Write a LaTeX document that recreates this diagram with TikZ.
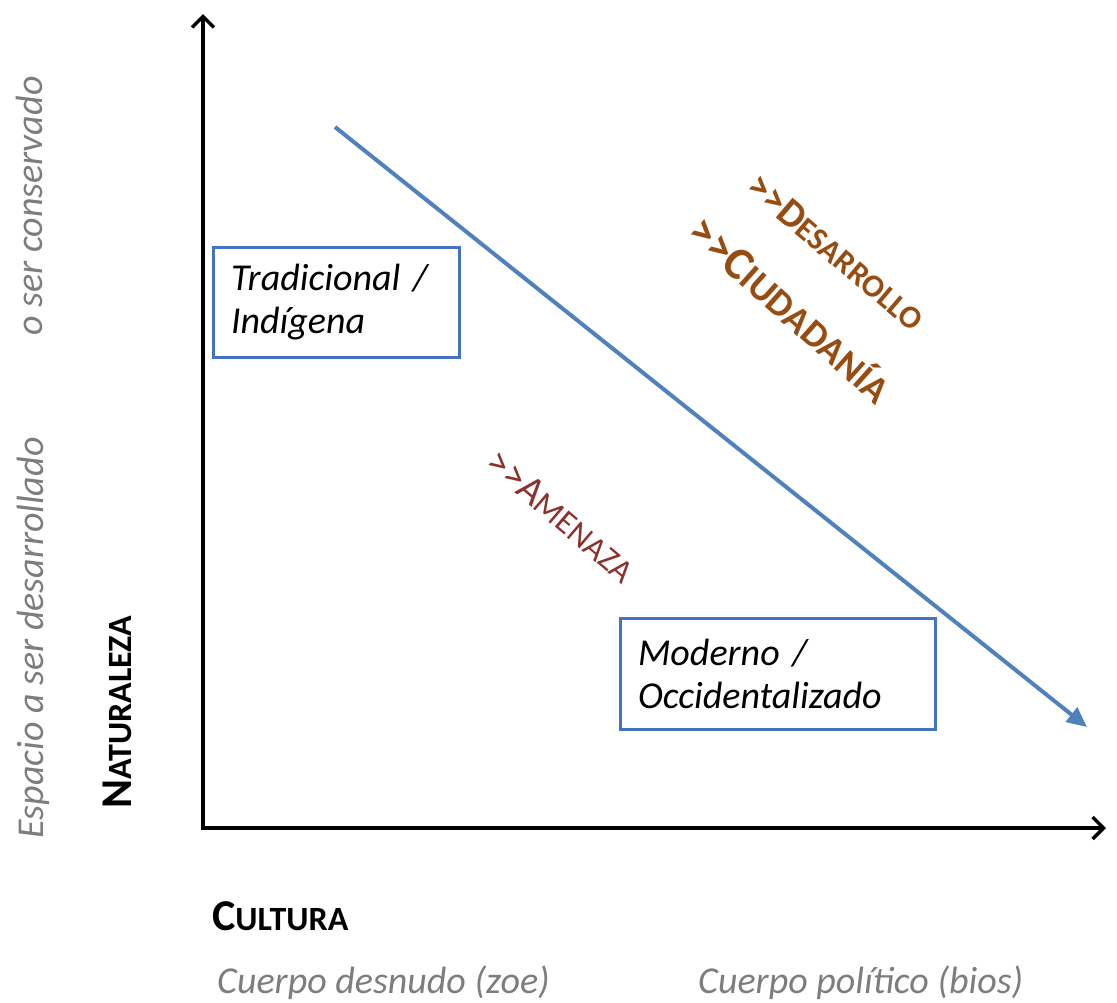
\documentclass[tikz,border=0pt]{standalone}
\usepackage{fontspec}
\setmainfont{Carlito}
\usetikzlibrary{arrows.meta}
\definecolor{axisblue}{RGB}{79,129,189}
\definecolor{boxblue}{RGB}{68,114,196}
\definecolor{brownorange}{RGB}{151,77,18}
\definecolor{darkred}{RGB}{140,50,45}
\definecolor{softgray}{RGB}{125,125,125}
\newcommand{\fs}[1]{\fontsize{#1}{#1}\selectfont}
\newcommand{\dblgt}{>\kern0pt>}
\tikzset{
  axisline/.style={line width=3.5pt, black, -{Straight Barb[length=11pt,width=22pt,line width=3.5pt]}},
  trendline/.style={line width=4pt, axisblue, -{Triangle[length=20pt,width=18pt]}},
  catbox/.style={draw=boxblue, line width=3pt, fill=white, align=left, inner xsep=18pt, font=\itshape\fontsize{38}{43}\selectfont},
  graytext/.style={softgray, font=\itshape\fontsize{38}{38}\selectfont, inner sep=0pt},
}
\begin{document}
\begin{tikzpicture}[x=1pt,y=-1pt]
\useasboundingbox (0,0) rectangle (1117,1002);
% axes
\coordinate (origin) at (203,828);
\coordinate (ytop) at (203,14);
\coordinate (xend) at (1106,828);
\draw[axisline] (origin) -- (ytop);
\draw[axisline] ([xshift=-1.75pt]origin) -- (xend);
% trend arrow
\coordinate (tstart) at (335,127);
\coordinate (tend) at (1087,727);
\draw[trendline] (tstart) -- (tend);
% boxes
\node[catbox, minimum width=246pt, minimum height=110pt, text width=210pt] (trad) at (336,302) {Tradicional /\\Indígena};
\node[catbox, minimum width=315pt, minimum height=111pt, text width=279pt] (mod) at (777.5,674) {Moderno /\\Occidentalizado};
% rotated labels
\node[brownorange, rotate=-40.3, font=\bfseries] (des) at (836.5,252) {\fs{40}\dblgt D\fs{32}ESARROLLO};
\node[brownorange, rotate=-41.7, font=\bfseries] (ciu) at (791,309) {\fs{46}\dblgt C\fs{38}IUDADANÍA};
\node[darkred, rotate=-40.4] (ame) at (561.5,516) {\fs{40}\dblgt A\fs{33}MENAZA};
% axis labels
\node[rotate=90, font=\bfseries] (nat) at (117,712) {\fs{44}N\fs{34}ATURALEZA};
\node[graytext, rotate=90, anchor=base] (esp) at (43,638) {Espacio a ser desarrollado};
\node[graytext, rotate=90, anchor=base] (cons) at (42,206) {o ser conservado};
\node[anchor=base west, font=\bfseries, inner sep=0pt] (cul) at (212,930) {\fs{44}C\fs{34}ULTURA};
\node[graytext, anchor=base west] (zoe) at (217,993) {Cuerpo desnudo (zoe)};
\node[graytext, anchor=base west] (bios) at (698,993) {Cuerpo político (bios)};
\end{tikzpicture}
\end{document}
